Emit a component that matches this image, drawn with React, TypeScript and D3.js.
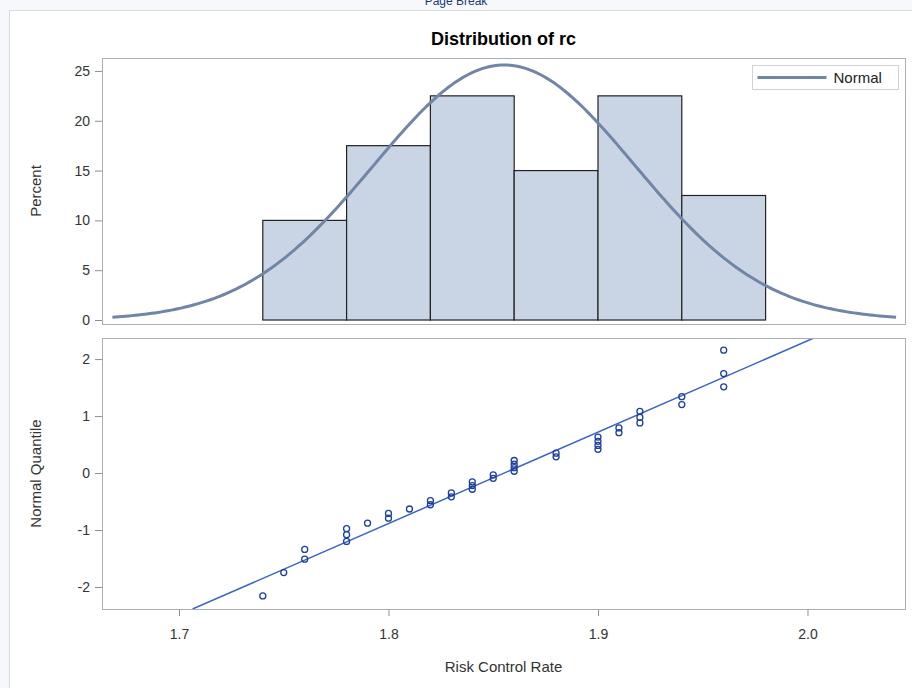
import React, { useEffect, useRef } from 'react';
import * as d3 from 'd3';

const rcValues = [
  1.74, 1.75, 1.76, 1.76, 1.78, 1.78, 1.78, 1.79, 1.80, 1.80,
  1.81, 1.82, 1.82, 1.83, 1.83, 1.84, 1.84, 1.84, 1.85, 1.85,
  1.86, 1.86, 1.86, 1.86, 1.88, 1.88, 1.90, 1.90, 1.90, 1.90,
  1.91, 1.91, 1.92, 1.92, 1.92, 1.94, 1.94, 1.96, 1.96, 1.96
];
const binEdges = [1.74, 1.78, 1.82, 1.86, 1.90, 1.94, 1.98];
const percentTicks = [0, 5, 10, 15, 20, 25];
const quantileTicks = [-2, -1, 0, 1, 2];
const rateTicks = [1.7, 1.8, 1.9, 2.0];

// inverse standard normal cdf (Acklam)
const invNorm = (p: number) => {
  const a = [-39.69683028665376, 220.9460984245205, -275.9285104469687, 138.357751867269, -30.66479806614716, 2.506628277459239];
  const b = [-54.47609879822406, 161.5858368580409, -155.6989798598866, 66.80131188771972, -13.28068155288572];
  const c = [-0.007784894002430293, -0.3223964580411365, -2.400758277161838, -2.549732539343734, 4.374664141464968, 2.938163982698783];
  const d = [0.007784695709041462, 0.3224671290700398, 2.445134137142996, 3.754408661907416];
  const pl = 0.02425;
  if (p < pl) {
    const q = Math.sqrt(-2 * Math.log(p));
    return (((((c[0] * q + c[1]) * q + c[2]) * q + c[3]) * q + c[4]) * q + c[5]) / ((((d[0] * q + d[1]) * q + d[2]) * q + d[3]) * q + 1);
  }
  if (p > 1 - pl) {
    const q = Math.sqrt(-2 * Math.log(1 - p));
    return -(((((c[0] * q + c[1]) * q + c[2]) * q + c[3]) * q + c[4]) * q + c[5]) / ((((d[0] * q + d[1]) * q + d[2]) * q + d[3]) * q + 1);
  }
  const q = p - 0.5;
  const r = q * q;
  return (((((a[0] * r + a[1]) * r + a[2]) * r + a[3]) * r + a[4]) * r + a[5]) * q / (((((b[0] * r + b[1]) * r + b[2]) * r + b[3]) * r + b[4]) * r + 1);
};

const FONT = '"Liberation Sans", Arial, sans-serif';

const App = () => {
  const ref = useRef<SVGSVGElement>(null);

  useEffect(() => {
    const svg = d3.select(ref.current);
    svg.selectAll('*').remove();

    const W = 912, H = 688;
    const left = 102, right = 905;
    const top1 = 58, bot1 = 324;
    const top2 = 338, bot2 = 609;

    // page background
    svg.append('rect').attr('width', W).attr('height', H).attr('fill', '#f7f8fb');
    svg.append('rect').attr('x', 9.5).attr('y', 10.5).attr('width', W).attr('height', H)
      .attr('fill', '#fff').attr('stroke', '#d8dbdf');
    svg.append('text').attr('x', 456).attr('y', 5).attr('text-anchor', 'middle')
      .attr('font-family', FONT).attr('font-size', 12).attr('fill', '#203a78').text('Page Break');

    const n = rcValues.length;
    const mu = d3.mean(rcValues) as number;
    const sigma = d3.deviation(rcValues) as number;
    const binWidth = binEdges[1] - binEdges[0];

    const x = d3.scaleLinear().domain([1.66325, 2.04654]).range([left, right]);

    // title
    svg.append('text').attr('x', (left + right) / 2).attr('y', 45).attr('text-anchor', 'middle')
      .attr('font-family', FONT).attr('font-weight', 'bold').attr('font-size', 18).attr('fill', '#000')
      .text('Distribution of rc');

    // ---- histogram panel
    const y1 = d3.scaleLinear().domain([-0.4, 26.3]).range([bot1, top1]);
    const bins = d3.bin().domain([binEdges[0], binEdges[binEdges.length - 1]])
      .thresholds(binEdges.slice(1, -1))(rcValues.map(v => v + 1e-9));

    svg.append('g').selectAll('rect').data(bins).enter().append('rect')
      .attr('x', d => x(d.x0 as number))
      .attr('y', d => y1(100 * d.length / n))
      .attr('width', d => x(d.x1 as number) - x(d.x0 as number))
      .attr('height', d => y1(0) - y1(100 * d.length / n))
      .attr('fill', '#c9d4e4').attr('stroke', '#222').attr('stroke-width', 1.2);

    // fitted normal curve
    const curveX = d3.range(0, 241).map(i => mu - 3 * sigma + (6 * sigma * i) / 240);
    const dens = (v: number) => 100 * binWidth * Math.exp(-0.5 * ((v - mu) / sigma) ** 2) / (sigma * Math.sqrt(2 * Math.PI));
    svg.append('path').datum(curveX)
      .attr('d', d3.line<number>().x(v => x(v)).y(v => y1(dens(v))))
      .attr('fill', 'none').attr('stroke', '#7185a6').attr('stroke-width', 3);

    const ax1 = svg.append('g').attr('transform', `translate(${left},0)`)
      .call(d3.axisLeft(y1).tickValues(percentTicks).tickSize(7).tickPadding(5).tickSizeOuter(0));
    ax1.select('.domain').remove();
    ax1.selectAll('line').attr('stroke', '#8a8f94');
    ax1.selectAll('text').attr('font-family', FONT).attr('font-size', 14).attr('fill', '#333');

    svg.append('rect').attr('x', left + 0.5).attr('y', top1 + 0.5).attr('width', right - left).attr('height', bot1 - top1)
      .attr('fill', 'none').attr('stroke', '#a9aeb3');

    svg.append('text').attr('transform', `translate(41,${(top1 + bot1) / 2}) rotate(-90)`)
      .attr('text-anchor', 'middle').attr('font-family', FONT).attr('font-size', 15).attr('fill', '#333').text('Percent');

    // legend
    const lg = svg.append('g').attr('transform', 'translate(752.5,65.5)');
    lg.append('rect').attr('width', 146).attr('height', 24).attr('fill', '#fff').attr('stroke', '#d0d3d6');
    lg.append('line').attr('x1', 5).attr('x2', 74).attr('y1', 12).attr('y2', 12)
      .attr('stroke', '#7185a6').attr('stroke-width', 3);
    lg.append('text').attr('x', 81).attr('y', 17.5).attr('font-family', FONT).attr('font-size', 15).attr('fill', '#222').text('Normal');

    // ---- Q-Q panel
    const y2 = d3.scaleLinear().domain([-2.386, 2.37]).range([bot2, top2]);
    const sorted = [...rcValues].sort(d3.ascending);
    const qq = sorted.map((v, i) => ({ v, q: invNorm((i + 1 - 0.375) / (n + 0.25)) }));

    svg.append('clipPath').attr('id', 'qqclip').append('rect')
      .attr('x', left).attr('y', top2).attr('width', right - left).attr('height', bot2 - top2);

    const qLo = y2.domain()[0], qHi = y2.domain()[1];
    svg.append('line').attr('clip-path', 'url(#qqclip)')
      .attr('x1', x(mu + sigma * qLo)).attr('y1', y2(qLo))
      .attr('x2', x(mu + sigma * qHi)).attr('y2', y2(qHi))
      .attr('stroke', '#3b64c6').attr('stroke-width', 1.5);

    svg.append('g').selectAll('circle').data(qq).enter().append('circle')
      .attr('cx', d => x(d.v)).attr('cy', d => y2(d.q)).attr('r', 3)
      .attr('fill', 'none').attr('stroke', '#1d3fa0').attr('stroke-width', 1.3);

    const ax2 = svg.append('g').attr('transform', `translate(${left},0)`)
      .call(d3.axisLeft(y2).tickValues(quantileTicks).tickFormat(d => String(d)).tickSize(7).tickPadding(5).tickSizeOuter(0));
    ax2.select('.domain').remove();
    ax2.selectAll('line').attr('stroke', '#8a8f94');
    ax2.selectAll('text').attr('font-family', FONT).attr('font-size', 14).attr('fill', '#333');

    const ax3 = svg.append('g').attr('transform', `translate(0,${bot2})`)
      .call(d3.axisBottom(x).tickValues(rateTicks).tickFormat(d3.format('.1f')).tickSize(7).tickPadding(13).tickSizeOuter(0));
    ax3.select('.domain').remove();
    ax3.selectAll('line').attr('stroke', '#8a8f94');
    ax3.selectAll('text').attr('font-family', FONT).attr('font-size', 14).attr('fill', '#333');

    svg.append('rect').attr('x', left + 0.5).attr('y', top2 + 0.5).attr('width', right - left).attr('height', bot2 - top2)
      .attr('fill', 'none').attr('stroke', '#a9aeb3');

    svg.append('text').attr('transform', `translate(41,${(top2 + bot2) / 2}) rotate(-90)`)
      .attr('text-anchor', 'middle').attr('font-family', FONT).attr('font-size', 15).attr('fill', '#333').text('Normal Quantile');

    svg.append('text').attr('x', (left + right) / 2).attr('y', 672).attr('text-anchor', 'middle')
      .attr('font-family', FONT).attr('font-size', 15).attr('fill', '#333').text('Risk Control Rate');
  }, []);

  return (
    <svg ref={ref} width={912} height={688}
      style={{ position: 'absolute', left: 0, top: 0, display: 'block' }} />
  );
};

export default App;
